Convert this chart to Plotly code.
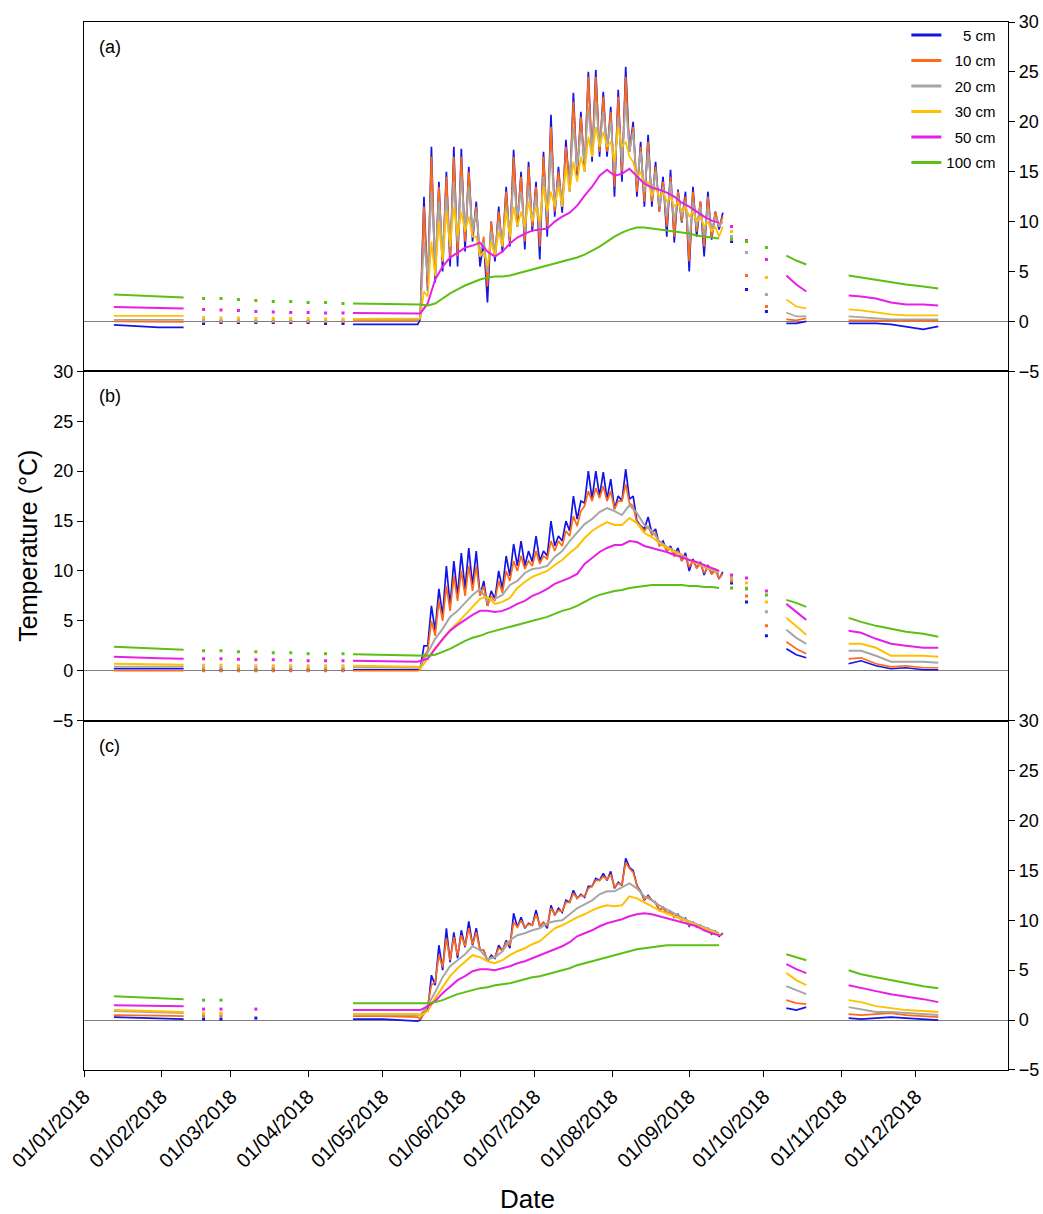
import pandas as pd
import plotly.graph_objects as go
from plotly.subplots import make_subplots

# Soil temperature at six depths, three sites, 2018
DEPTHS = ["5 cm", "10 cm", "20 cm", "30 cm", "50 cm", "100 cm"]
LEGEND_LABELS = ["\u00a0\u00a0\u00a0\u00a05 cm", "\u00a0\u00a010 cm", "\u00a0\u00a020 cm",
                 "\u00a0\u00a030 cm", "\u00a0\u00a050 cm", "100 cm"]
COLORS = ["#1414E6", "#FF6A14", "#A6A6A6", "#FFC000", "#E620E6", "#5CBF14"]
PANELS = ["(a)", "(b)", "(c)"]
MONTH_TICKS = ["2018-%02d-01" % m for m in range(1, 13)]
MONTH_LABELS = ["01/%02d/2018" % m for m in range(1, 13)]

# day of year (0 = 1 Jan) of the sparse / off-season readings
OFF_DOY = [12, 22, 30, 40,
           48, 55, 62, 69, 76, 83, 90, 97, 104,
           108, 120, 134,
           260, 266, 274,
           282, 286, 290,
           307, 312, 318, 324, 330, 337, 343]
# summer record: daily minimum on SUMMER_DOY, daily maximum 1.5 days later
SUMMER_DOY = list(range(135, 256, 3))

# ---- panel (a)
A_OFF_5 = [-0.35, -0.45, -0.6, -0.6, -0.2, -0.1, -0.1, -0.1, -0.1, -0.1, -0.1, -0.2, -0.2,
           -0.3, -0.3, -0.3, 8.0, 3.2, 1.0, -0.2, -0.2, 0.0, -0.2, -0.2, -0.2, -0.3, -0.5, -0.8, -0.5]
A_OFF_10 = [0.0, 0.0, -0.05, -0.05, 0.0, 0.0, 0.0, 0.0, 0.0, 0.0, 0.0, 0.0, 0.0,
            0.05, 0.05, 0.05, 8.5, 4.6, 1.5, 0.2, 0.1, 0.3, 0.1, 0.1, 0.05, 0.05, 0.05, 0.05, 0.05]
A_OFF_20 = [0.15, 0.15, 0.15, 0.15, 0.1, 0.1, 0.1, 0.1, 0.1, 0.1, 0.1, 0.1, 0.1,
            0.15, 0.15, 0.15, 8.5, 6.9, 2.7, 0.9, 0.5, 0.5, 0.5, 0.4, 0.3, 0.2, 0.2, 0.2, 0.2]
A_OFF_30 = [0.55, 0.55, 0.55, 0.55, 0.4, 0.35, 0.35, 0.3, 0.3, 0.3, 0.3, 0.25, 0.25,
            0.25, 0.25, 0.25, 9.0, 8.1, 4.4, 2.2, 1.5, 1.3, 1.2, 1.1, 0.9, 0.7, 0.6, 0.6, 0.6]
A_OFF_50 = [1.45, 1.4, 1.35, 1.3, 1.2, 1.15, 1.1, 1.0, 0.95, 0.9, 0.9, 0.85, 0.85,
            0.85, 0.8, 0.75, 9.5, 8.1, 6.2, 4.6, 3.7, 3.0, 2.6, 2.5, 2.3, 1.9, 1.7, 1.7, 1.6]
A_OFF_100 = [2.7, 2.6, 2.5, 2.4, 2.3, 2.3, 2.2, 2.1, 2.0, 2.0, 1.9, 1.9, 1.8,
             1.8, 1.75, 1.7, 8.2, 8.0, 7.4, 6.6, 6.1, 5.7, 4.6, 4.4, 4.2, 3.9, 3.7, 3.5, 3.3]

A_5_LO = [0.2, 3.0, 3.9, 5.0, 5.5, 5.5, 7.0, 8.0, 5.5, 1.9, 6.0, 6.9, 7.5, 9.5, 7.2, 9.0, 6.2, 8.5,
          10.5, 10.9, 13.0, 14.5, 15.0, 16.0, 16.5, 16.5, 12.5, 14.0, 17.0, 12.5, 11.5, 11.5, 11.0,
          8.5, 7.9, 9.9, 5.0, 8.5, 6.5, 8.2, 9.2]
A_5_HI = [12.5, 17.5, 14.0, 15.0, 17.5, 17.3, 15.5, 12.0, 8.0, 10.0, 11.5, 13.5, 17.2, 15.0, 16.0,
          14.0, 17.0, 20.7, 15.5, 18.2, 22.9, 21.0, 25.0, 25.2, 23.0, 21.5, 23.2, 25.5, 20.0, 18.0,
          18.7, 16.0, 14.5, 15.2, 13.2, 13.0, 13.5, 12.0, 13.0, 11.0, 10.9]
A_10_LO = [0.3, 3.5, 5.0, 6.0, 6.5, 6.5, 8.0, 8.5, 6.5, 3.5, 6.5, 7.5, 8.0, 10.0, 8.0, 9.5, 7.5, 9.5,
           11.0, 11.5, 13.5, 15.0, 15.5, 16.5, 17.0, 17.0, 13.5, 15.0, 17.0, 13.0, 12.0, 12.0, 11.0,
           9.5, 8.5, 10.0, 6.0, 9.0, 7.5, 8.5, 9.5]
A_10_HI = [11.5, 16.5, 13.5, 14.5, 16.5, 16.5, 15.0, 11.5, 8.5, 10.0, 11.0, 13.0, 16.5, 14.5, 15.5,
           13.5, 16.5, 19.5, 15.0, 17.5, 22.0, 20.5, 24.5, 24.5, 22.5, 21.0, 22.5, 24.5, 19.5, 17.5,
           18.0, 15.5, 14.0, 14.5, 13.0, 12.5, 13.0, 12.0, 12.5, 11.0, 10.5]
A_20_LO = [0.3, 4.5, 6.0, 7.0, 7.5, 8.0, 9.0, 9.0, 7.0, 5.0, 7.0, 8.0, 9.0, 10.5, 9.0, 10.0, 9.0, 10.5,
           11.5, 12.0, 14.0, 15.5, 16.0, 17.0, 17.5, 17.5, 15.0, 16.0, 17.0, 14.0, 13.0, 12.5, 11.5,
           10.5, 10.0, 10.5, 8.0, 9.5, 8.5, 9.0, 9.5]
A_20_HI = [8.0, 13.0, 12.0, 12.5, 14.0, 14.5, 13.5, 11.0, 8.0, 9.0, 10.0, 11.5, 14.0, 13.0, 13.5,
           12.5, 14.5, 17.0, 14.0, 15.5, 19.5, 19.0, 21.5, 22.0, 21.0, 20.0, 20.5, 22.0, 19.0, 17.0,
           17.0, 15.0, 13.5, 14.0, 12.5, 12.0, 12.0, 11.5, 11.5, 10.5, 10.0]
A_30_LO = [0.3, 2.5, 4.5, 6.0, 7.5, 8.5, 9.0, 8.5, 6.5, 5.5, 6.5, 7.5, 8.5, 9.5, 9.5, 10.0, 10.0, 11.0,
           11.5, 11.5, 13.0, 14.0, 15.0, 16.5, 17.5, 17.5, 16.0, 17.5, 16.5, 14.5, 13.5, 12.5, 12.5,
           12.0, 11.5, 11.0, 10.5, 10.0, 9.5, 9.0, 8.5]
A_30_HI = [3.0, 8.0, 10.0, 11.0, 11.5, 11.0, 10.5, 8.5, 7.0, 8.0, 9.0, 11.0, 11.5, 11.0, 12.0, 11.5,
           13.5, 13.0, 13.5, 15.5, 16.0, 16.5, 18.5, 19.5, 19.0, 18.0, 19.5, 18.0, 16.0, 15.0, 14.0,
           13.5, 13.0, 12.5, 12.0, 11.5, 11.0, 10.5, 10.0, 9.5, 9.5]
A_50 = [0.8, 1.8, 4.2, 5.5, 6.4, 6.9, 7.4, 7.6, 7.9, 7.0, 6.5, 7.0, 7.8, 8.4, 8.8, 9.1, 9.2, 9.3,
        10.0, 10.5, 10.9, 11.6, 12.6, 13.5, 14.6, 15.2, 14.6, 14.8, 15.3, 14.6, 13.8, 13.4, 13.2,
        12.9, 12.5, 11.9, 11.5, 11.0, 10.5, 10.1, 9.9]
A_100 = [1.7, 1.6, 1.8, 2.3, 2.8, 3.2, 3.6, 3.9, 4.2, 4.4, 4.5, 4.5, 4.6, 4.8, 5.0, 5.2, 5.4, 5.6,
         5.8, 6.0, 6.2, 6.4, 6.7, 7.1, 7.5, 8.0, 8.5, 8.9, 9.2, 9.4, 9.4, 9.3, 9.2, 9.1, 9.0, 8.9,
         8.8, 8.6, 8.5, 8.4, 8.3]

# ---- panel (b)
B_OFF_5 = [0.2, 0.2, 0.2, 0.2, 0.1, 0.1, 0.1, 0.1, 0.1, 0.1, 0.1, 0.1, 0.1,
           0.1, 0.1, 0.1, 8.8, 6.9, 3.5, 2.2, 1.6, 1.3, 0.7, 1.0, 0.5, 0.2, 0.3, 0.1, 0.1]
B_OFF_10 = [0.0, 0.0, 0.0, 0.0, 0.0, 0.0, 0.0, 0.0, 0.0, 0.0, 0.0, 0.0, 0.0,
            0.0, 0.0, 0.0, 9.0, 7.5, 4.5, 2.9, 2.2, 1.7, 1.2, 1.3, 0.7, 0.4, 0.5, 0.3, 0.3]
B_OFF_20 = [0.4, 0.4, 0.4, 0.4, 0.3, 0.3, 0.3, 0.3, 0.3, 0.3, 0.3, 0.3, 0.3,
            0.35, 0.3, 0.3, 9.3, 8.3, 5.9, 4.1, 3.3, 2.7, 2.0, 2.0, 1.5, 0.9, 0.9, 0.9, 0.8]
B_OFF_30 = [0.7, 0.65, 0.6, 0.6, 0.55, 0.55, 0.5, 0.5, 0.5, 0.5, 0.5, 0.5, 0.5,
            0.5, 0.45, 0.4, 9.5, 8.8, 6.9, 5.3, 4.4, 3.6, 2.7, 2.7, 2.3, 1.5, 1.5, 1.5, 1.4]
B_OFF_50 = [1.4, 1.3, 1.25, 1.2, 1.2, 1.2, 1.15, 1.1, 1.1, 1.05, 1.0, 1.0, 1.0,
            1.0, 0.95, 0.9, 9.6, 9.3, 8.0, 6.7, 5.9, 5.1, 4.0, 3.8, 3.2, 2.7, 2.5, 2.3, 2.3]
B_OFF_100 = [2.4, 2.3, 2.2, 2.1, 2.0, 2.0, 1.9, 1.9, 1.8, 1.8, 1.7, 1.7, 1.7,
             1.65, 1.6, 1.55, 8.3, 8.2, 7.6, 7.1, 6.8, 6.4, 5.3, 4.9, 4.5, 4.2, 3.9, 3.7, 3.4]

B_5_LO = [0.2, 2.5, 4.0, 5.5, 6.5, 7.5, 8.2, 8.5, 7.5, 6.5, 7.2, 8.2, 9.5, 10.5, 10.5, 10.9, 11.0,
          11.5, 12.5, 13.0, 14.0, 15.2, 16.8, 17.2, 17.5, 17.2, 16.2, 17.0, 17.2, 15.0, 14.2, 13.8,
          12.6, 12.0, 11.6, 11.0, 10.0, 10.3, 9.6, 9.7, 9.2]
B_5_HI = [2.5, 6.5, 8.2, 10.5, 11.0, 11.8, 12.3, 12.0, 9.0, 8.0, 10.0, 11.5, 12.7, 13.0, 12.0, 13.5,
          12.0, 15.0, 13.5, 15.0, 17.5, 17.0, 20.0, 20.0, 19.9, 19.2, 17.5, 20.2, 17.5, 14.5, 15.4,
          14.2, 13.0, 12.5, 12.3, 11.8, 11.2, 10.9, 10.6, 10.2, 9.9]
B_10_LO = [0.1, 2.0, 3.5, 5.0, 6.0, 7.0, 7.5, 8.0, 7.5, 6.5, 7.0, 7.8, 9.0, 10.0, 10.2, 10.5, 10.7,
           11.2, 12.0, 12.5, 13.5, 14.5, 16.5, 17.0, 17.3, 17.0, 16.2, 17.0, 16.8, 14.8, 14.0, 13.6,
           12.5, 12.0, 11.5, 11.0, 10.4, 10.3, 9.8, 9.7, 9.3]
B_10_HI = [1.5, 5.0, 7.0, 8.5, 9.5, 10.0, 10.5, 10.5, 8.5, 7.5, 9.0, 10.0, 11.0, 11.5, 11.0, 12.0,
           11.5, 13.0, 13.0, 14.0, 15.5, 16.0, 18.0, 18.3, 18.5, 18.0, 17.0, 18.7, 16.5, 14.5, 14.5,
           13.8, 12.7, 12.3, 12.0, 11.5, 11.0, 10.7, 10.4, 10.0, 9.7]
B_20 = [0.4, 1.8, 3.2, 4.2, 5.4, 6.0, 6.8, 7.6, 8.2, 7.0, 7.2, 7.6, 8.6, 9.0, 9.8, 10.2, 10.3, 10.5,
        11.4, 12.0, 13.0, 13.8, 14.7, 15.2, 15.9, 16.3, 16.0, 15.6, 16.6, 15.8, 14.6, 14.0, 13.0,
        12.4, 12.0, 11.6, 11.1, 10.8, 10.4, 10.1, 9.8]
B_30 = [0.2, 1.2, 2.3, 3.1, 4.1, 4.8, 5.6, 6.3, 7.2, 7.4, 6.7, 6.9, 7.3, 8.3, 8.9, 9.4, 9.7, 10.0,
        10.6, 11.1, 11.8, 12.4, 13.3, 14.0, 14.5, 14.9, 14.6, 14.6, 15.3, 14.8, 13.8, 13.4, 12.8,
        12.3, 11.9, 11.5, 11.1, 10.8, 10.5, 10.2, 9.9]
B_50 = [1.0, 1.2, 2.2, 3.2, 4.0, 4.6, 5.1, 5.6, 6.0, 6.0, 5.9, 6.0, 6.3, 6.7, 7.0, 7.5, 7.8, 8.2,
        8.7, 9.0, 9.3, 9.7, 10.7, 11.3, 11.9, 12.3, 12.6, 12.6, 13.0, 12.9, 12.5, 12.3, 12.1, 11.9,
        11.6, 11.4, 11.1, 10.9, 10.6, 10.3, 10.0]
B_100 = [1.5, 1.5, 1.6, 1.9, 2.2, 2.6, 3.0, 3.3, 3.5, 3.8, 4.0, 4.2, 4.4, 4.6, 4.8, 5.0, 5.2, 5.4,
         5.7, 6.0, 6.2, 6.5, 6.9, 7.3, 7.6, 7.8, 8.0, 8.1, 8.3, 8.4, 8.5, 8.6, 8.6, 8.6, 8.6, 8.6,
         8.5, 8.5, 8.4, 8.4, 8.3]

# ---- panel (c)
C_OFF_5 = [0.3, 0.25, 0.15, 0.1, 0.1, 0.1, None, 0.2, None, None, None, None, None,
           0.1, 0.1, -0.1, None, None, None, 1.2, 1.0, 1.3, 0.2, 0.1, 0.2, 0.3, 0.2, 0.1, 0.0]
C_OFF_10 = [0.5, 0.5, 0.45, 0.4, 0.4, 0.4, None, None, None, None, None, None, None,
            0.4, 0.4, 0.3, None, None, None, 2.0, 1.7, 1.6, 0.6, 0.5, 0.6, 0.7, 0.5, 0.4, 0.3]
C_OFF_20 = [0.9, 0.85, 0.75, 0.7, 0.6, 0.6, None, None, None, None, None, None, None,
            0.5, 0.5, 0.5, None, None, None, 3.4, 3.0, 2.6, 1.3, 1.1, 0.8, 0.8, 0.7, 0.6, 0.5]
C_OFF_30 = [1.0, 0.95, 0.85, 0.8, 0.7, 0.7, None, None, None, None, None, None, None,
            0.6, 0.6, 0.6, None, None, None, 4.7, 4.0, 3.5, 2.0, 1.8, 1.4, 1.2, 1.0, 0.9, 0.8]
C_OFF_50 = [1.5, 1.45, 1.4, 1.4, 1.1, 1.1, None, 1.1, None, None, None, None, None,
            1.0, 1.0, 1.0, None, None, None, 5.6, 5.1, 4.7, 3.5, 3.2, 2.9, 2.6, 2.4, 2.1, 1.8]
C_OFF_100 = [2.4, 2.3, 2.2, 2.1, 2.0, 2.0, None, None, None, None, None, None, None,
             1.7, 1.7, 1.7, None, None, None, 6.6, 6.3, 6.0, 5.0, 4.6, 4.3, 4.0, 3.7, 3.4, 3.2]

C_5_LO = [0.0, 0.9, 3.5, 5.0, 5.8, 6.2, 7.3, 7.5, 7.0, 5.9, 6.2, 6.9, 7.2, 9.3, 9.2, 9.5, 9.4, 9.2,
          10.5, 10.8, 11.8, 12.2, 12.3, 13.4, 14.0, 14.0, 13.2, 13.5, 15.3, 13.5, 12.0, 12.0, 11.0,
          10.7, 10.3, 10.0, 9.4, 9.3, 9.0, 8.6, 8.4]
C_5_HI = [0.8, 4.5, 7.5, 9.2, 8.8, 9.0, 9.9, 9.2, 7.0, 6.5, 7.5, 8.0, 10.7, 10.3, 9.7, 11.0, 9.8,
          11.5, 11.2, 12.0, 13.0, 12.6, 13.4, 14.2, 14.7, 14.9, 13.8, 16.2, 15.0, 12.9, 12.5, 11.8,
          11.3, 10.9, 10.6, 10.2, 9.8, 9.5, 9.2, 8.9, 8.7]
C_10_LO = [0.1, 1.5, 3.8, 5.3, 6.0, 6.5, 7.4, 7.6, 7.0, 6.0, 6.3, 7.0, 7.5, 9.3, 9.3, 9.5, 9.5, 9.4,
           10.6, 10.9, 11.8, 12.2, 12.4, 13.4, 14.0, 14.1, 13.3, 13.6, 15.2, 13.5, 12.1, 12.0, 11.1,
           10.7, 10.3, 10.0, 9.5, 9.3, 9.0, 8.7, 8.5]
C_10_HI = [0.6, 3.5, 6.5, 8.2, 8.3, 8.5, 9.2, 8.8, 7.0, 6.3, 7.2, 7.8, 9.8, 10.0, 9.6, 10.6, 9.8,
           11.2, 11.0, 11.8, 12.7, 12.5, 13.2, 14.0, 14.4, 14.6, 13.7, 15.8, 14.8, 12.8, 12.4, 11.7,
           11.2, 10.8, 10.5, 10.1, 9.7, 9.4, 9.1, 8.8, 8.6]
C_20 = [0.5, 1.5, 2.8, 4.3, 5.4, 6.0, 6.6, 7.4, 7.0, 6.1, 6.3, 6.9, 8.0, 8.5, 8.7, 9.0, 9.2, 9.7,
        9.9, 10.0, 10.6, 11.2, 11.6, 12.0, 12.6, 12.9, 12.9, 13.3, 13.7, 13.2, 12.4, 12.0, 11.5,
        11.1, 10.7, 10.3, 9.9, 9.6, 9.3, 9.0, 8.7]
C_30 = [0.4, 0.9, 2.2, 3.3, 4.4, 5.2, 5.9, 6.5, 6.3, 5.9, 5.7, 6.0, 6.5, 6.9, 7.2, 7.6, 7.9, 8.6,
        9.2, 9.5, 9.9, 10.3, 10.6, 11.0, 11.3, 11.5, 11.4, 11.5, 12.4, 12.2, 11.8, 11.4, 11.0,
        10.7, 10.4, 10.1, 9.8, 9.5, 9.2, 8.9, 8.6]
C_50 = [1.0, 1.4, 1.9, 2.7, 3.4, 4.0, 4.4, 4.9, 5.1, 5.1, 5.0, 5.2, 5.4, 5.7, 5.9, 6.2, 6.5, 6.8,
        7.1, 7.4, 7.8, 8.4, 8.7, 9.0, 9.4, 9.7, 9.9, 10.1, 10.4, 10.6, 10.7, 10.6, 10.4, 10.2,
        10.0, 9.8, 9.6, 9.4, 9.0, 8.7, 8.5]
C_100 = [1.7, 1.7, 1.8, 2.0, 2.3, 2.6, 2.8, 3.0, 3.2, 3.3, 3.5, 3.6, 3.7, 3.9, 4.1, 4.3, 4.4, 4.6,
         4.8, 5.0, 5.2, 5.5, 5.7, 5.9, 6.1, 6.3, 6.5, 6.7, 6.9, 7.1, 7.2, 7.3, 7.4, 7.5, 7.5, 7.5,
         7.5, 7.5, 7.5, 7.5, 7.5]

# how OFF_DOY splits into drawn pieces; the summer record is joined after the spring piece
OFF_SEGMENTS = [("line", 4), ("dots", 9), ("line", 3), ("summer", 0),
                ("dots", 3), ("line", 3), ("line", 7)]

BASE = pd.Timestamp("2018-01-01")


def to_dates(days):
    return [None if d is None else BASE + pd.Timedelta(days=d) for d in days]


def build_series(off_vals, summer_lo, summer_hi=None):
    line_x, line_y, dot_x, dot_y = [], [], [], []
    i = 0
    for kind, n in OFF_SEGMENTS:
        if kind == "summer":
            # continue the spring line straight into the summer record
            line_x.pop()
            line_y.pop()
            if summer_hi is None:
                line_x += SUMMER_DOY
                line_y += summer_lo
            else:
                for d, lo, hi in zip(SUMMER_DOY, summer_lo, summer_hi):
                    line_x += [d, d + 1.5]
                    line_y += [lo, hi]
            line_x.append(None)
            line_y.append(None)
            continue
        xs, ys = OFF_DOY[i:i + n], off_vals[i:i + n]
        i += n
        if kind == "line":
            line_x += xs + [None]
            line_y += ys + [None]
        else:
            dot_x += xs
            dot_y += ys
    return to_dates(line_x), line_y, to_dates(dot_x), dot_y


panel_data = [
    [(A_OFF_5, A_5_LO, A_5_HI), (A_OFF_10, A_10_LO, A_10_HI), (A_OFF_20, A_20_LO, A_20_HI),
     (A_OFF_30, A_30_LO, A_30_HI), (A_OFF_50, A_50, None), (A_OFF_100, A_100, None)],
    [(B_OFF_5, B_5_LO, B_5_HI), (B_OFF_10, B_10_LO, B_10_HI), (B_OFF_20, B_20, None),
     (B_OFF_30, B_30, None), (B_OFF_50, B_50, None), (B_OFF_100, B_100, None)],
    [(C_OFF_5, C_5_LO, C_5_HI), (C_OFF_10, C_10_LO, C_10_HI), (C_OFF_20, C_20, None),
     (C_OFF_30, C_30, None), (C_OFF_50, C_50, None), (C_OFF_100, C_100, None)],
]

fig = make_subplots(rows=3, cols=1, shared_xaxes=True, vertical_spacing=0)

for row, series in enumerate(panel_data, 1):
    for k, (off_vals, lo, hi) in enumerate(series):
        lx, ly, dx, dy = build_series(off_vals, lo, hi)
        fig.add_trace(
            go.Scatter(x=lx, y=ly, mode="lines",
                       line=dict(color=COLORS[k], width=1.7 if hi else 2),
                       showlegend=False, hoverinfo="skip"),
            row=row, col=1,
        )
        fig.add_trace(
            go.Scatter(x=dx, y=dy, mode="markers",
                       marker=dict(color=COLORS[k], size=3, symbol="square"),
                       showlegend=False, hoverinfo="skip"),
            row=row, col=1,
        )

# legend entries only
for k, label in enumerate(LEGEND_LABELS):
    fig.add_trace(
        go.Scatter(x=[None], y=[None], mode="lines", name=label, legendgroup=DEPTHS[k],
                   line=dict(color=COLORS[k], width=3)),
        row=1, col=1,
    )

axis_font = dict(family="Arial, Liberation Sans", size=18, color="black")

fig.update_xaxes(
    range=["2018-01-01", "2019-01-07"],
    tickvals=MONTH_TICKS,
    ticktext=MONTH_LABELS,
    showline=True, linecolor="black", linewidth=1.3, mirror=True,
    showgrid=False, zeroline=False,
    ticks="", showticklabels=False,
)
fig.update_xaxes(row=3, col=1, ticks="outside", ticklen=6, tickcolor="black",
                 showticklabels=True, tickangle=-45, ticklabeloverflow="allow",
                 tickfont=dict(family="Arial, Liberation Sans", size=20, color="black"))

for row, side in zip([1, 2, 3], ["right", "left", "right"]):
    fig.update_yaxes(
        row=row, col=1, side=side,
        range=[-5, 30], tickvals=[-5, 0, 5, 10, 15, 20, 25, 30],
        showline=True, linecolor="black", linewidth=1.3, mirror=True,
        ticks="outside", ticklen=6, tickcolor="black", tickfont=axis_font,
        showgrid=False, zeroline=True, zerolinecolor="#7f7f7f", zerolinewidth=1,
    )

for row, label in enumerate(PANELS, 1):
    fig.add_annotation(
        text=label, xref="x domain" if row == 1 else "x%d domain" % row,
        yref="y domain" if row == 1 else "y%d domain" % row,
        x=0.014, y=0.928, xanchor="left", yanchor="middle", showarrow=False,
        font=dict(family="Arial, Liberation Sans", size=18, color="black"),
    )

fig.add_annotation(text="Temperature (\u00b0C)", xref="paper", yref="paper",
                   x=-0.061, y=0.5, textangle=-90, showarrow=False,
                   xanchor="center", yanchor="middle",
                   font=dict(family="Arial, Liberation Sans", size=25, color="black"))
fig.add_annotation(text="Date", xref="paper", yref="paper",
                   x=0.48, y=-0.123, showarrow=False,
                   xanchor="center", yanchor="middle",
                   font=dict(family="Arial, Liberation Sans", size=26, color="black"))

fig.update_layout(
    width=1043,
    height=1214,
    margin=dict(l=84, r=35, t=22, b=144, autoexpand=False),
    plot_bgcolor="white",
    paper_bgcolor="white",
    font=dict(family="Arial, Liberation Sans", color="black"),
    legend=dict(
        x=0.89, y=1.003, xanchor="left", yanchor="top",
        font=dict(family="Arial, Liberation Sans", size=15, color="black"),
        bgcolor="rgba(0,0,0,0)", tracegroupgap=3, itemwidth=30,
    ),
)

# drop the page's default body margin so the figure fills the window exactly
fig.write_html(
    "out.html",
    config={"displayModeBar": False},
    post_script="document.body.style.margin='0';document.body.style.overflow='hidden';",
)
